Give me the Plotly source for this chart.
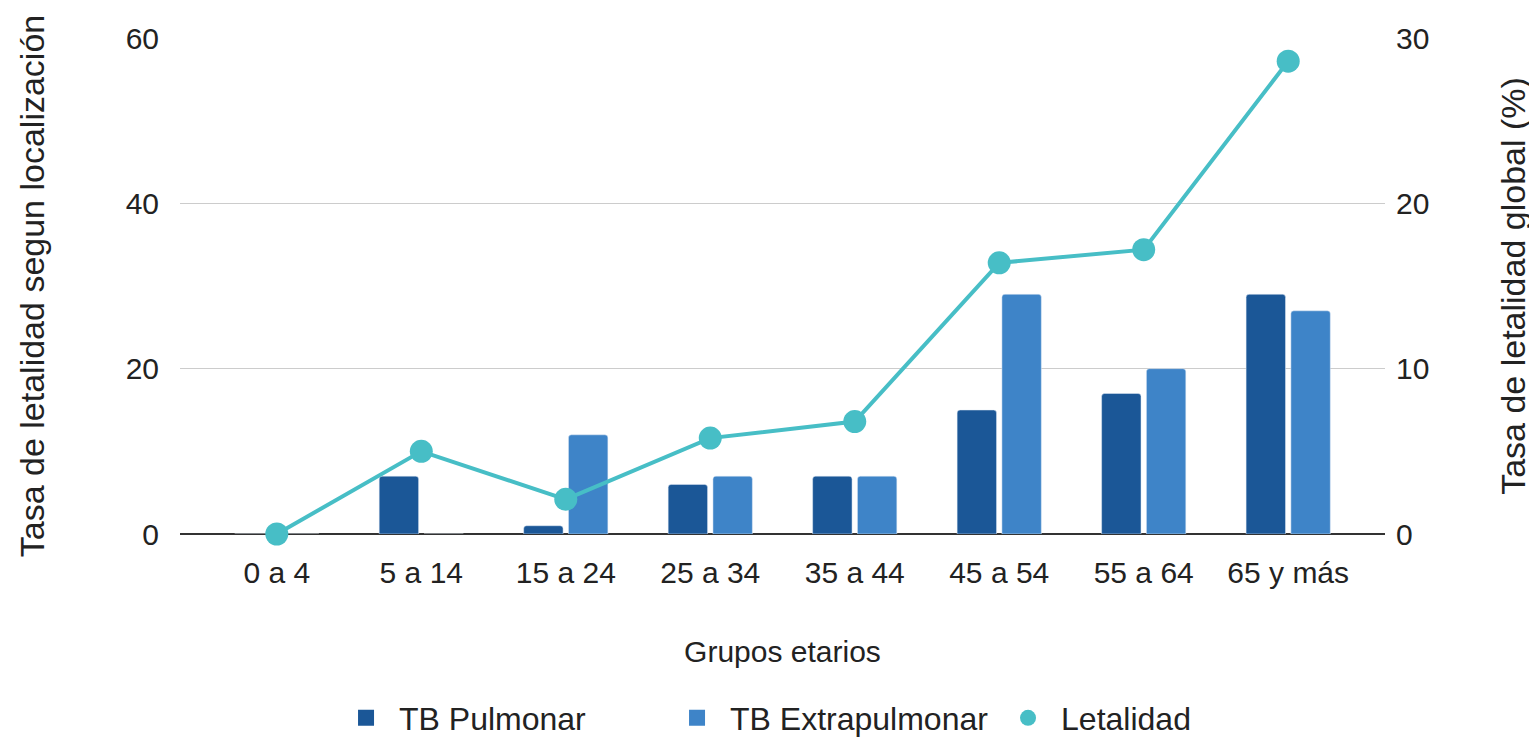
import plotly.graph_objects as go

grupos = ["0 a 4", "5 a 14", "15 a 24", "25 a 34", "35 a 44", "45 a 54", "55 a 64", "65 y más"]
tb_pulmonar = [0, 7, 1, 6, 7, 15, 17, 29]
tb_extrapulmonar = [0, 0, 12, 7, 7, 29, 20, 27]
letalidad = [0, 5, 2.1, 5.8, 6.8, 16.4, 17.2, 28.6]

c_pulm = "#1b5797"
c_extra = "#3e84c8"
c_let = "#47bec6"
font_fam = "Liberation Sans, Arial, sans-serif"

fig = go.Figure()
fig.add_trace(go.Bar(x=grupos, y=tb_pulmonar, name="TB Pulmonar", showlegend=False,
                     marker=dict(color=c_pulm, cornerradius=3)))
fig.add_trace(go.Bar(x=grupos, y=tb_extrapulmonar, name="TB Extrapulmonar", showlegend=False,
                     marker=dict(color=c_extra, cornerradius=3)))
fig.add_trace(go.Scatter(x=grupos, y=letalidad, name="Letalidad", yaxis="y2",
                         mode="lines+markers", cliponaxis=False, showlegend=False,
                         line=dict(color=c_let, width=4),
                         marker=dict(color=c_let, size=23)))

# legend entries (bigger symbols than the default bar swatch)
for nombre, color, simbolo in [("TB Pulmonar", c_pulm, "square"),
                               ("TB Extrapulmonar", c_extra, "square"),
                               ("Letalidad", c_let, "circle")]:
    fig.add_trace(go.Scatter(x=[None], y=[None], name=nombre, mode="markers",
                             marker=dict(color=color, size=16, symbol=simbolo)))

fig.update_layout(
    width=1537, height=750,
    margin=dict(l=172, r=160, t=30, b=208),
    plot_bgcolor="white", paper_bgcolor="white",
    font=dict(family=font_fam, size=30, color="#222"),
    barmode="group", bargap=0.38, bargroupgap=0.12,
    xaxis=dict(range=[-0.67, 7.67], showgrid=False, ticks="",
               ticklabelstandoff=18, automargin=False,
               tickfont=dict(size=30),
               title=dict(text="Grupos etarios", standoff=52, font=dict(size=30))),
    yaxis=dict(range=[0, 60], dtick=20, gridcolor="#cccccc", gridwidth=1,
               zeroline=True, zerolinecolor="#333333", zerolinewidth=2,
               ticks="", ticklabelstandoff=20, automargin=False,
               tickfont=dict(size=30),
               title=dict(text="Tasa de letalidad segun localización", standoff=70,
                          font=dict(size=34))),
    yaxis2=dict(range=[0, 30], dtick=10, overlaying="y", side="right",
                showgrid=False, zeroline=False, ticks="", ticklabelstandoff=10,
                automargin=False, tickfont=dict(size=30),
                title=dict(text="Tasa de letalidad global (%)", standoff=72,
                           font=dict(size=34))),
    legend=dict(orientation="h", x=0.127, xanchor="left", y=-0.371, yanchor="middle",
                font=dict(size=32), itemwidth=56, entrywidth=260,
                entrywidthmode="pixels", traceorder="normal"),
)

fig.write_html("out.html")
